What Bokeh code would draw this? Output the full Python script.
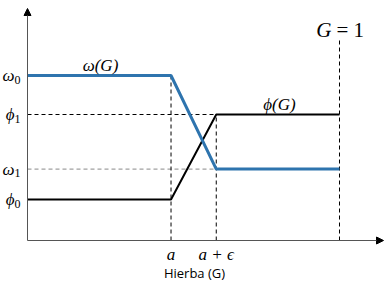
from bokeh.plotting import figure
from bokeh.models import Arrow, NormalHead, Label
from bokeh.embed import file_html
from bokeh.resources import INLINE

# data (G in [0,1])
a = 0.46
a_eps = 0.605
G_end = 1.0
omega0 = 0.825
omega1 = 0.357
phi0 = 0.205
phi1 = 0.63

omega_x = [0.0, a, a_eps, G_end]
omega_y = [omega0, omega0, omega1, omega1]
phi_x = [0.0, a, a_eps, G_end]
phi_y = [phi0, phi0, phi1, phi1]

y_levels = [omega0, phi1, omega1, phi0]
y_base = ["ω", "ϕ", "ω", "ϕ"]
y_sub = ["0", "1", "1", "0"]
x_ticks = [a, a_eps]
x_labels = ["a", "a + ϵ"]

W, H = 386, 286
p = figure(width=W, height=H, output_backend="svg", toolbar_location=None,
           x_range=(-27/312, (W-27)/312), y_range=((240-H)/200, 240/200),
           min_border=0)
p.axis.visible = False
p.grid.visible = False
p.outline_line_color = None
p.background_fill_color = "white"

# axes
p.add_layout(Arrow(end=NormalHead(size=7, fill_color="black", line_color="black"),
                   x_start=0, y_start=0, x_end=(383-27)/312, y_end=0,
                   line_color="#555555", line_width=1))
p.add_layout(Arrow(end=NormalHead(size=7, fill_color="black", line_color="black"),
                   x_start=0, y_start=0, x_end=0, y_end=(240-8)/200,
                   line_color="#555555", line_width=1))

# dashed guides
p.line([0, a_eps], [phi1, phi1], line_color="black", line_dash="4 3", line_width=1)
p.line([0, a_eps], [omega1, omega1], line_color="#888888", line_dash="4 3", line_width=1)
p.line([a, a], [0, omega0], line_color="black", line_dash="4 3", line_width=1)
p.line([a_eps, a_eps], [0, phi1], line_color="black", line_dash="4 3", line_width=1)
p.line([G_end, G_end], [0, (240-40)/200], line_color="black", line_dash="4 3", line_width=1)

# curves
p.line(phi_x, phi_y, line_color="black", line_width=2)
p.line(omega_x, omega_y, line_color="#2E74AE", line_width=3)

serif = "Liberation Serif"
K = "black"
for yv, b, s in zip(y_levels, y_base, y_sub):
    p.add_layout(Label(x=0, y=yv, x_offset=-13, text=b, text_align="right", text_baseline="middle",
                       text_font=serif, text_font_style="italic", text_font_size="17px",
                       text_color=K))
    p.add_layout(Label(x=0, y=yv, x_offset=-13, y_offset=-4, text=s, text_align="left",
                       text_baseline="middle", text_font=serif, text_font_size="12px",
                       text_color=K))
for xv, lab in zip(x_ticks, x_labels):
    p.add_layout(Label(x=xv, y=-0.07, text=lab, text_align="center", text_baseline="middle",
                       text_font=serif, text_font_style="italic", text_font_size="17px",
                       text_color=K))

p.add_layout(Label(x=(100-27)/312, y=(240-65)/200, text="ω(G)", text_align="center",
                   text_baseline="middle", text_font=serif, text_font_style="italic",
                   text_font_size="17px", text_color=K))
p.add_layout(Label(x=(279-27)/312, y=(240-104)/200, text="ϕ(G)", text_align="center",
                   text_baseline="middle", text_font=serif, text_font_style="italic",
                   text_font_size="17px", text_color=K))
p.add_layout(Label(x=G_end, y=(240-29)/200, x_offset=-8, text="G", text_align="right",
                   text_baseline="middle", text_font=serif, text_font_style="italic",
                   text_font_size="21px", text_color=K))
p.add_layout(Label(x=G_end, y=(240-29)/200, x_offset=-3, text="= 1", text_align="left",
                   text_baseline="middle", text_font=serif,
                   text_font_size="21px", text_color=K))
p.add_layout(Label(x=(194-27)/312, y=(240-272)/200, text="Hierba (G)", text_align="center",
                   text_baseline="middle", text_font="Open Sans", text_font_size="13px",
                   text_color="black"))

open("out.html", "w").write(file_html(p, INLINE))
